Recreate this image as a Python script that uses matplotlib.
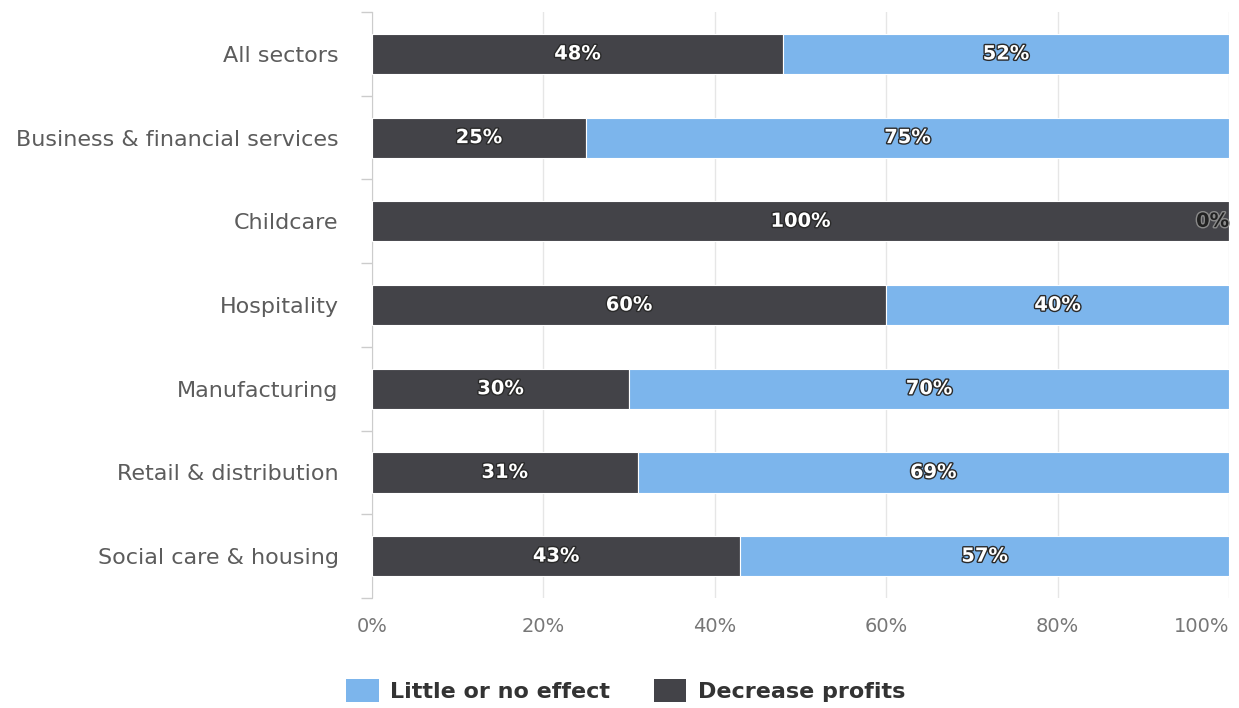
import matplotlib
matplotlib.use("Agg")
import matplotlib.pyplot as plt
import matplotlib.patheffects as pe
from matplotlib.patches import Patch

categories = ["All sectors", "Business & financial services", "Childcare",
              "Hospitality", "Manufacturing", "Retail & distribution",
              "Social care & housing"]
decrease_profits = [48, 25, 100, 60, 30, 31, 43]
little_or_no_effect = [52, 75, 0, 40, 70, 69, 57]
x_ticks = [0, 20, 40, 60, 80, 100]

DARK = "#434348"
BLUE = "#7cb5ec"

fig = plt.figure(figsize=(12.39, 7.08), dpi=100)
ax = fig.add_axes([0.3002, 0.1554, 0.6917, 0.8276])

y = list(range(len(categories)))
bar_h = 0.48
ax.barh(y, decrease_profits, height=bar_h, color=DARK, edgecolor="white",
        linewidth=0.8, zorder=3)
ax.barh(y, little_or_no_effect, left=decrease_profits, height=bar_h,
        color=BLUE, edgecolor="white", linewidth=0.8, zorder=3)

outline = [pe.withStroke(linewidth=2.0, foreground="#2a2a2a")]
for i, (d, l) in enumerate(zip(decrease_profits, little_or_no_effect)):
    if d > 0:
        ax.text(d / 2, i, f"{d}%", ha="center", va="center", color="white",
                fontsize=14, fontweight="bold", path_effects=outline, zorder=4)
    if l > 0:
        ax.text(d + l / 2, i, f"{l}%", ha="center", va="center", color="white",
                fontsize=14, fontweight="bold", path_effects=outline, zorder=4)
    else:
        ax.text(d, i, f"{l}%", ha="right", va="center", color="#222222",
                fontsize=14, fontweight="bold",
                path_effects=[pe.withStroke(linewidth=2.0, foreground="#8a8a8a")],
                zorder=4)

ax.set_xlim(0, 100)
ax.set_ylim(len(categories) - 0.5, -0.5)
ax.set_yticks(y)
ax.set_yticklabels(categories, fontsize=16, color="#5c5c5c")
ax.set_xticks(x_ticks)
xlabels = ax.set_xticklabels([f"{t}%" for t in x_ticks], fontsize=14,
                             color="#777777")
# keep the last tick label inside the figure
xlabels[-1].set_horizontalalignment("right")
xlabels[-1].set_x(100.2)

# category boundary ticks on the left axis
ax.set_yticks([i - 0.5 for i in range(len(categories) + 1)], minor=True)
ax.tick_params(axis="y", which="major", length=0, pad=24)
ax.tick_params(axis="y", which="minor", length=8, color="#cccccc", width=1)
ax.tick_params(axis="x", length=0, pad=14)

ax.grid(axis="x", color="#e6e6e6", linewidth=1, zorder=0)
for s in ["top", "right", "bottom"]:
    ax.spines[s].set_visible(False)
ax.spines["left"].set_color("#cccccc")

handles = [Patch(facecolor=BLUE, label="Little or no effect"),
           Patch(facecolor=DARK, label="Decrease profits")]
leg = fig.legend(handles=handles, loc="center", bbox_to_anchor=(0.505, 0.025),
                 ncol=2, frameon=False, handlelength=1.45, handleheight=1.2,
                 columnspacing=2.0, handletextpad=0.5,
                 prop={"size": 16, "weight": "bold"})
for t in leg.get_texts():
    t.set_color("#333333")

fig.savefig("out.png", dpi=100, facecolor="white")
